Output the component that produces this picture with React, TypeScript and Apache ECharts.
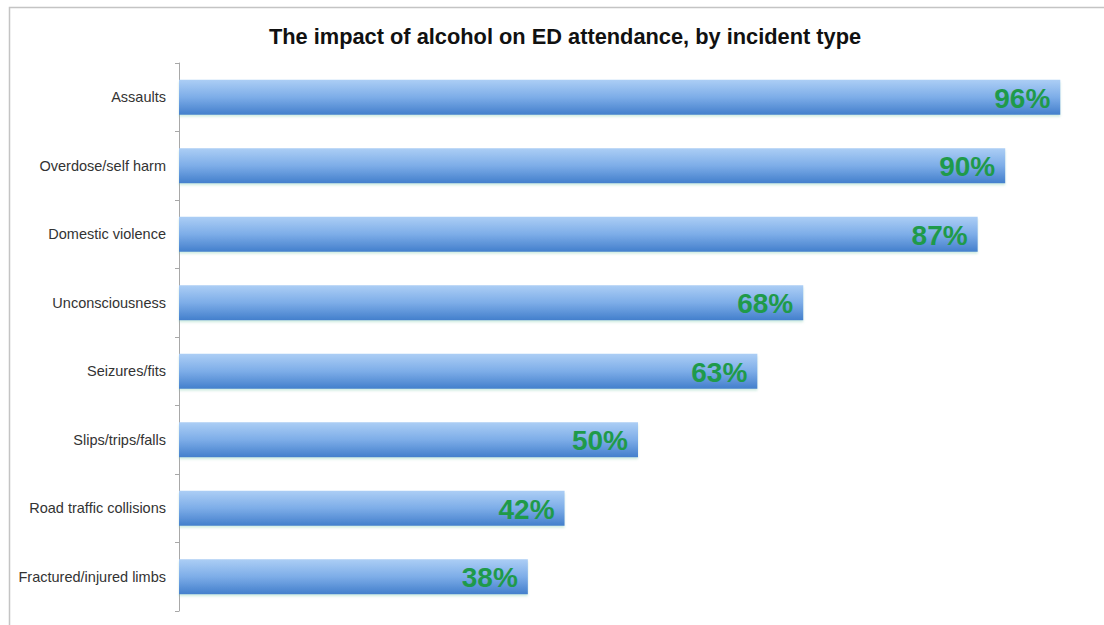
import React, { useEffect, useRef } from "react";
import * as echarts from "echarts";

const categories = [
  "Assaults",
  "Overdose/self harm",
  "Domestic violence",
  "Unconsciousness",
  "Seizures/fits",
  "Slips/trips/falls",
  "Road traffic collisions",
  "Fractured/injured limbs",
];
const values = [96, 90, 87, 68, 63, 50, 42, 38];
const titleText = "The impact of alcohol on ED attendance, by incident type";

export default function App() {
  const ref = useRef<HTMLDivElement>(null);
  useEffect(() => {
    if (!ref.current) return;
    const chart = echarts.init(ref.current, null, { renderer: "svg" });
    const font = "'Liberation Sans', Arial, sans-serif";
    chart.setOption({
      animation: false,
      backgroundColor: "#ffffff",
      textStyle: { fontFamily: font },
      title: {
        text: titleText,
        left: 560,
        top: 20,
        textAlign: "center",
        textStyle: { fontSize: 21.8, fontWeight: "bold", color: "#111", fontFamily: font },
      },
      graphic: [
        {
          type: "polyline",
          shape: { points: [[9.5, 625], [9.5, 7.5], [1104, 7.5]] },
          style: { stroke: "#c4c4c4", lineWidth: 1.5, fill: "none" },
          silent: true,
        },
      ],
      grid: { left: 179, right: 7, top: 63, bottom: 14, containLabel: false },
      xAxis: {
        type: "value",
        min: 0,
        max: 100,
        show: false,
      },
      yAxis: {
        type: "category",
        data: categories,
        inverse: true,
        axisLine: { show: true, lineStyle: { color: "#a8a8a8", width: 1 } },
        axisTick: { show: true, length: 4, lineStyle: { color: "#a8a8a8" } },
        axisLabel: { fontSize: 14.5, color: "#333", margin: 13, fontFamily: font },
        splitLine: { show: false },
      },
      series: [
        {
          type: "bar",
          data: values,
          barWidth: 35,
          itemStyle: {
            color: new echarts.graphic.LinearGradient(0, 0, 0, 1, [
              { offset: 0, color: "#acceF5" },
              { offset: 0.5, color: "#7dade8" },
              { offset: 1, color: "#437fcc" },
            ]),
            shadowColor: "rgba(120,200,170,0.35)",
            shadowBlur: 2,
            shadowOffsetY: 2,
          },
          label: {
            show: true,
            position: "insideRight",
            distance: 10,
            formatter: "{c}%",
            fontSize: 28,
            fontWeight: "bold",
            color: "#1f9a4a",
            fontFamily: font,
            offset: [0, 1],
          },
        },
      ],
    });
    return () => chart.dispose();
  }, []);
  return (
    <div
      ref={ref}
      style={{ position: "absolute", left: 0, top: 0, width: 1104, height: 625 }}
    />
  );
}
